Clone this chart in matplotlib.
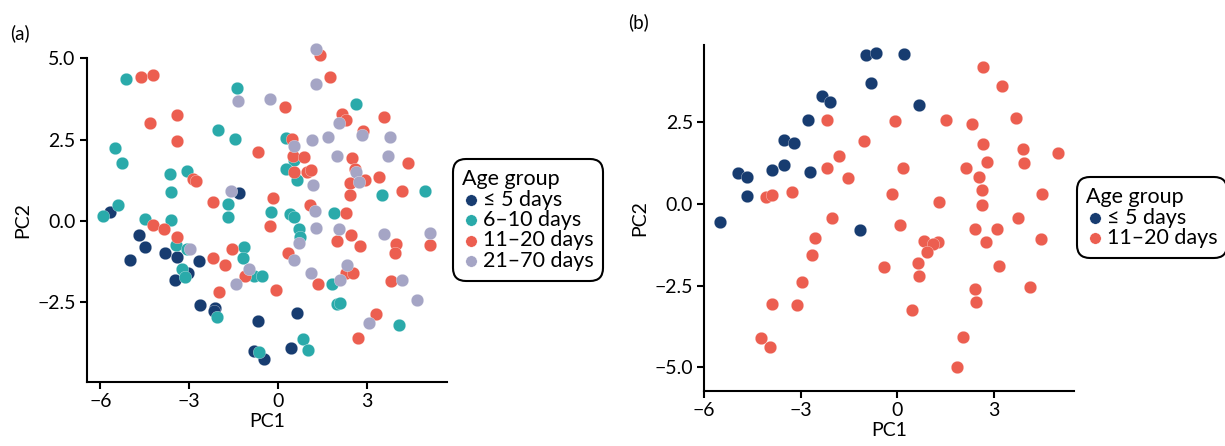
import matplotlib
matplotlib.use("Agg")
import matplotlib.pyplot as plt

plt.rcParams['font.family'] = ['Lato', 'DejaVu Sans']

# couleurs des groupes d'age
NAVY = '#173c70'
TEAL = '#2aaaaa'
RED = '#ec5e50'
LILAC = '#a5a5c5'

# ---- panel (a) ----
a_le5_x = [-1.31, -5.66, -4.71, -4.51, -5.00, -3.82, -3.43, -2.67, -3.05, -3.48,
           -2.63, -2.12, -2.18, -0.67, -0.80, -0.48, 0.64, 0.42]
a_le5_y = [0.87, 0.27, -0.43, -0.79, -1.19, -0.98, -1.12, -1.23, -1.60, -1.82,
           -2.58, -2.67, -2.77, -3.07, -3.99, -4.24, -2.83, -3.90]

a_6_10_x = [-5.14, -1.39, -2.02, -1.45, -5.51, -5.28, -3.64, -3.06, -3.63, -1.70,
            -0.24, -5.42, -5.90, -4.50, -3.62, -1.70, 2.62, 0.28, 0.54, 0.25,
            0.63, 3.49, 4.97, 0.39, 0.52, 1.89, 0.72, 0.74, -3.44, -3.08,
            -3.24, -3.14, -1.14, -1.17, -0.81, -0.55, -2.08, -0.64, 1.82, 1.98,
            2.09, 4.07, 0.83, 1.02]
a_6_10_y = [4.37, 4.10, 2.80, 2.51, 2.24, 1.78, 1.45, 1.54, 0.89, 0.53,
            0.27, 0.50, 0.15, 0.06, 0.02, 0.11, 3.60, 2.56, 1.86, 1.60,
            1.26, 0.81, 0.91, 0.22, 0.13, 0.26, -0.24, -0.48, -0.74, -0.85,
            -1.47, -1.71, -0.79, -1.15, -1.69, -1.69, -2.96, -4.04, -1.93, -2.56,
            -2.53, -3.21, -3.64, -3.96]

a_11_20_x = [-4.62, -4.22, -3.40, -4.33, -3.40, -0.67, -2.88, -2.77, -2.20, -0.19,
             -4.21, -3.85, -0.29, -3.40, -2.20, -1.81, -1.55, -1.12, -2.01, -0.08,
             1.41, 1.74, 0.24, 2.17, 2.28, 3.58, 2.87, 0.46, 0.50, 0.88,
             2.49, 0.53, 0.98, 1.10, 2.59, 2.93, 2.41, 3.40, 4.39, 2.41,
             4.18, 1.09, 2.29, 2.45, 1.98, 2.76, 3.98, 3.94, 5.13, 0.33,
             1.34, 2.29, 2.54, 3.80, 3.30, 2.69]
a_11_20_y = [4.43, 4.49, 3.27, 3.01, 2.47, 2.13, 1.29, 1.23, 0.58, 0.71,
             -0.13, -0.26, -0.15, -0.50, -1.13, -1.35, -0.85, -1.69, -2.18, -2.13,
             5.09, 4.41, 3.50, 3.28, 3.11, 3.21, 2.76, 2.51, 2.00, 1.98,
             1.94, 1.50, 1.49, 1.57, 1.59, 1.26, 1.16, 1.35, 1.78, 0.80,
             0.93, 0.48, 0.26, -0.43, -0.62, -0.78, -0.70, -0.99, -0.74, -0.99,
             -1.94, -1.61, -1.61, -1.84, -2.86, -3.59]

a_21_70_x = [-1.36, -0.28, 1.27, 1.28, 2.06, 2.83, 3.76, 1.69, 1.14, 0.53,
             1.99, 3.71, 2.64, 2.74, 1.19, -1.60, 1.26, 1.27, 2.06, 3.58,
             5.13, 0.72, -2.97, -0.97, -1.43, 0.53, 1.12, 2.09, 2.34, 4.17,
             4.67, 3.08]
a_21_70_y = [3.69, 3.74, 5.28, 4.22, 3.02, 2.65, 2.58, 2.58, 2.48, 2.31,
             2.01, 2.00, 1.50, 1.19, 1.10, 0.93, 0.32, -0.22, -0.25, -0.41,
             -0.36, -0.69, -0.87, -1.49, -1.95, -1.21, -1.59, -1.82, -1.34, -1.82,
             -2.42, -3.15]

# ---- panel (b) ----
b_le5_x = [-0.97, -0.65, -0.82, -2.34, -2.08, -2.76, -3.53, -3.22, -4.94, -4.67,
           -3.88, -3.53, -2.72, -4.65, -5.50, -1.14, 0.21, 0.69]
b_le5_y = [4.54, 4.63, 3.71, 3.30, 3.11, 2.58, 1.95, 1.87, 0.96, 0.82,
           1.05, 1.19, 0.97, 0.24, -0.55, -0.80, 4.58, 3.03]

b_11_20_x = [-2.18, -1.04, -1.80, -2.18, -1.52, -4.07, -3.88, -3.26, -2.01, 2.66,
             3.25, -0.08, 1.53, 2.31, 3.69, 2.65, 3.91, 5.00, 0.19, 2.13,
             2.80, 3.93, 2.53, 2.62, -0.16, 1.29, 2.62, 4.49, 3.76, 0.08,
             2.43, 3.10, -2.54, -2.65, -0.40, -2.96, -3.88, -3.12, -4.23, -3.95,
             4.46, 0.83, 1.28, 1.12, 0.93, 2.75, 0.65, 0.69, 3.17, 2.43,
             2.45, 4.11, 0.45, 2.03, 1.87]
b_11_20_y = [2.58, 1.91, 1.47, 1.09, 0.79, 0.20, 0.27, 0.36, -0.44, 4.18,
             3.61, 2.54, 2.58, 2.44, 2.64, 1.84, 1.68, 1.56, 1.09, 1.11,
             1.28, 1.25, 0.83, 0.44, 0.31, 0.05, -0.02, 0.30, -0.44, -0.65,
             -0.78, -0.77, -1.04, -1.55, -1.94, -2.39, -3.05, -3.10, -4.09, -4.38,
             -1.08, -1.13, -1.17, -1.21, -1.46, -1.17, -1.80, -2.19, -1.91, -2.60,
             -2.99, -2.54, -3.24, -4.06, -4.99]

ticks_x = [-6, -3, 0, 3]
ticks_y_a = [-2.5, 0.0, 2.5, 5.0]
ticks_y_b = [-5.0, -2.5, 0.0, 2.5]


def style_axes(ax):
    for s in ['top', 'right']:
        ax.spines[s].set_visible(False)
    for s in ['left', 'bottom']:
        ax.spines[s].set_linewidth(1.5)
    ax.tick_params(direction='out', length=5, width=1.5, labelsize=14, pad=3)
    ax.set_xlabel('PC1', fontsize=14, labelpad=2)
    ax.set_ylabel('PC2', fontsize=14, labelpad=4)


def add_legend(fig, ax, anchor):
    leg = ax.legend(title='Age group', loc='center left', bbox_to_anchor=anchor,
                    bbox_transform=fig.transFigure, frameon=True, fancybox=True,
                    edgecolor='black', framealpha=1, fontsize=15.5,
                    title_fontsize=15.5, handletextpad=0.15, handlelength=0.8,
                    borderpad=0.45, labelspacing=0.02, markerscale=0.9,
                    alignment='left', borderaxespad=0)
    fr = leg.get_frame()
    fr.set_linewidth(1.5)
    fr.set_boxstyle('round,pad=0,rounding_size=0.6')
    return leg


def scatter(ax, x, y, c, label):
    ax.scatter(x, y, s=82, c=c, edgecolors='white', linewidths=0.2,
               label=label, clip_on=False, zorder=3)


fig = plt.figure(figsize=(12.25, 4.46), dpi=100)

ax1 = fig.add_axes([0.0708, 0.1442, 0.2939, 0.7251])
scatter(ax1, a_le5_x, a_le5_y, NAVY, '≤ 5 days')
scatter(ax1, a_6_10_x, a_6_10_y, TEAL, '6–10 days')
scatter(ax1, a_11_20_x, a_11_20_y, RED, '11–20 days')
scatter(ax1, a_21_70_x, a_21_70_y, LILAC, '21–70 days')
ax1.set_xlim(-6.46, 5.69)
ax1.set_ylim(-4.94, 5.0)
ax1.set_xticks(ticks_x)
ax1.set_xticklabels(['−6', '−3', '0', '3'])
ax1.set_yticks(ticks_y_a)
ax1.set_yticklabels(['−2.5', '0.0', '2.5', '5.0'])
style_axes(ax1)
add_legend(fig, ax1, (0.3696, 0.5067))

ax2 = fig.add_axes([0.5747, 0.1233, 0.3020, 0.7758])
scatter(ax2, b_le5_x, b_le5_y, NAVY, '≤ 5 days')
scatter(ax2, b_11_20_x, b_11_20_y, RED, '11–20 days')
ax2.set_xlim(-6.0, 5.49)
ax2.set_ylim(-5.72, 4.86)
ax2.set_xticks(ticks_x)
ax2.set_xticklabels(['−6', '−3', '0', '3'])
ax2.set_yticks(ticks_y_b)
ax2.set_yticklabels(['−5.0', '−2.5', '0.0', '2.5'])
style_axes(ax2)
add_legend(fig, ax2, (0.879, 0.5123))

fig.text(10 / 1225, 1 - 33 / 446, '(a)', fontsize=13.5, va='center', ha='left')
fig.text(628 / 1225, 1 - 22 / 446, '(b)', fontsize=13.5, va='center', ha='left')

fig.savefig('out.png', dpi=100)
